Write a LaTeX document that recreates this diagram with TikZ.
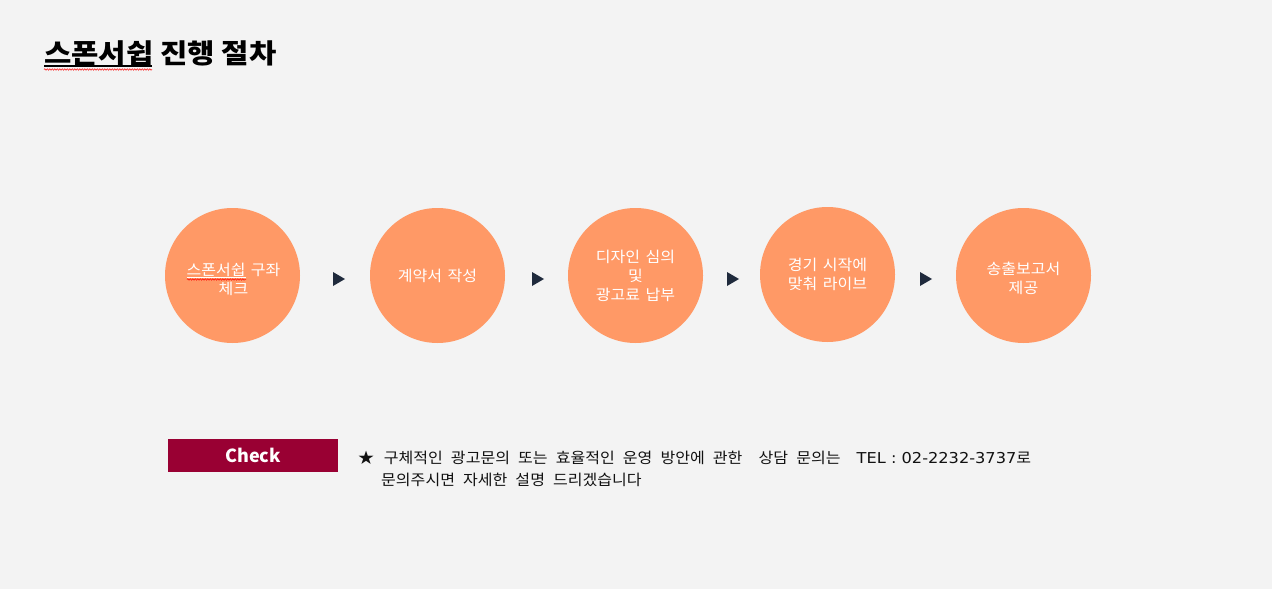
\documentclass[tikz,border=0pt]{standalone}
\usepackage{fontspec}
\setmainfont{Noto Sans CJK KR}
\newfontfamily\krwide[FakeStretch=1.07]{Noto Sans CJK KR}
\newfontfamily\krtitle[FakeStretch=1.1]{Noto Sans CJK KR}
\newfontfamily\krnote[FakeStretch=1.07, WordSpace=1.5]{Noto Sans CJK KR}
\newfontfamily\latfont[FakeStretch=1.08]{DejaVu Sans}
\usetikzlibrary{decorations.pathmorphing}
\definecolor{bg}{HTML}{F3F3F3}
\definecolor{orng}{HTML}{FF9966}
\definecolor{navy}{HTML}{1F2A3C}
\definecolor{crim}{HTML}{990033}
\definecolor{txt}{HTML}{111111}
\begin{document}
\begin{tikzpicture}[x=1pt,y=-1pt,
  stepcirc/.style={circle, fill=orng, minimum size=135pt, inner sep=0pt},
  steptext/.style={text=white, align=center, inner sep=0pt, font=\krwide\fontsize{15}{19}\selectfont},
  tri/.style={fill=navy},
  squig/.style={red, line width=0.5pt, decorate, decoration={snake, amplitude=0.7pt, segment length=2.5pt}},
  notetext/.style={anchor=base west, inner sep=0pt, text=txt, font=\krnote\fontsize{15}{19}\selectfont}
]
\useasboundingbox (0,0) rectangle (1272,589);
\fill[bg] (0,0) rectangle (1272,589);

% title
\node[anchor=base west, inner sep=0pt, font=\krtitle\fontsize{27}{32}\selectfont\bfseries] (title) at (44,63) {스폰서쉽 진행 절차};
\draw[black, line width=1.3pt] (44,66) -- (152,66);
\draw[squig] (44,69.5) -- (152,69.5);

% circles
\node[stepcirc] (s1) at (232.5,275.5) {};
\node[stepcirc] (s2) at (437.5,275.5) {};
\node[stepcirc] (s3) at (635.5,275.5) {};
\node[stepcirc] (s4) at (827.5,274.5) {};
\node[stepcirc] (s5) at (1023.5,275.5) {};
\node[steptext] (t1) at (233.5,279) {스폰서쉽 구좌\\체크};
\node[steptext] (t2) at (437.5,276) {계약서 작성};
\node[steptext] (t3) at (635.5,276) {디자인 심의\\및\\광고료 납부};
\node[steptext] (t4) at (827.5,274.5) {경기 시작에\\맞춰 라이브};
\node[steptext] (t5) at (1023.5,278.5) {송출보고서\\제공};
\draw[white, line width=0.6pt] (187,277) -- (246,277);
\draw[squig] (187,279.5) -- (246,279.5);

% arrows between steps
\coordinate (a1) at (339,279);
\coordinate (a2) at (538,279);
\coordinate (a3) at (733,279);
\coordinate (a4) at (926,279);
\foreach \a in {a1,a2,a3,a4}
  \fill[tri] (\a) ++(-6,-7) -- ++(12,7) -- ++(-12,7) -- cycle;

% check box
\node[fill=crim, minimum width=170pt, minimum height=33pt, inner sep=0pt, text=white, font=\fontsize{18}{20}\selectfont\bfseries] (chk) at (253,455.5) {Check};

% note
\node[notetext] (note1) at (358,463) {★\hspace{1.5pt} 구체적인 광고문의 또는 효율적인 운영 방안에 관한\ \ 상담 문의는\ \ {\latfont TEL : 02-2232-3737}로};
\node[notetext] (note2) at (381,485) {문의주시면 자세한 설명 드리겠습니다};
\end{tikzpicture}
\end{document}
